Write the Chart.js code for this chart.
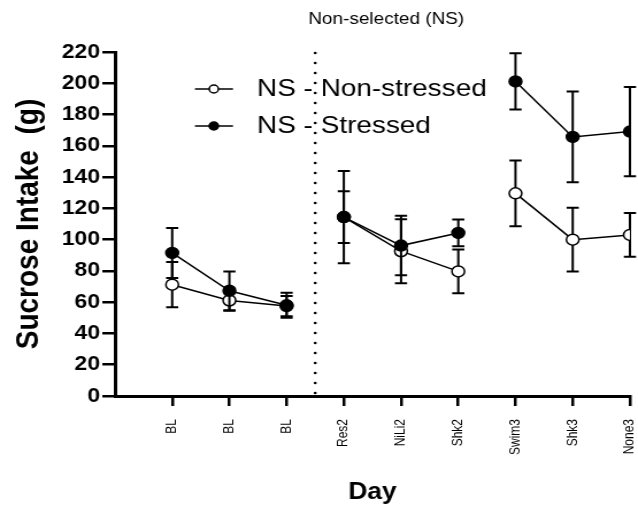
<!DOCTYPE html>
<html>
<head>
<meta charset="utf-8">
<title>Sucrose intake - Non-selected (NS)</title>
<script src="https://cdn.jsdelivr.net/npm/chart.js@4.4.1/dist/chart.umd.min.js"></script>
<style>
  html, body { margin: 0; padding: 0; background: #fff; overflow: hidden; }
  /* the reference picture is stretched sideways, so the chart is drawn narrow and widened */
  #wrap { width: 555px; height: 517px; transform: scaleX(1.1495); transform-origin: 0 0; }
</style>
</head>
<body>
<div id="wrap"><canvas id="chart" width="555" height="517" style="width:555px;height:517px"></canvas></div>
<script>
const FONT = "'Liberation Sans', Arial, sans-serif";

// Data
const dayLabels = ["BL", "BL", "BL", "Res2", "NiLi2", "Shk2", "Swim3", "Shk3", "None3"];
const dayPositions = [1, 2, 3, 4, 5, 6, 7, 8, 9];
const dayGroups = [0, 0, 0, 1, 1, 1, 2, 2, 2]; // lines only join days of the same block
const nonStressed = [71.2, 61.1, 57.5, 114.4, 92.6, 79.7, 129.6, 100, 103];
const nonStressedErr = [14.5, 6.6, 6.5, 29.5, 20.5, 14, 21, 20.4, 14];
const stressed = [91.5, 67.3, 58, 114.4, 96.2, 104.3, 201.2, 165.7, 169.1];
const stressedErr = [16, 12.4, 8, 16.5, 19, 8.6, 18, 29, 28.5];
const yTicks = [0, 20, 40, 60, 80, 100, 120, 140, 160, 180, 200, 220];
const dividerAt = 3.5;

function points(values) {
  return dayPositions.map((x, i) => ({ x: x, y: values[i] }));
}

function segColor(c) {
  return dayGroups[c.p0DataIndex] === dayGroups[c.p1DataIndex] ? "#000" : "rgba(0,0,0,0)";
}

// Error bars, drawn just before each dataset so its own markers sit on top
const errorBars = {
  id: "errorBars",
  beforeDatasetDraw(chart, args) {
    const ds = chart.data.datasets[args.index];
    if (!ds.errors) return;
    const ctx = chart.ctx;
    const xs = chart.scales.x, ys = chart.scales.y;
    ctx.save();
    ctx.strokeStyle = "#000";
    ctx.lineWidth = 2;
    ds.data.forEach((p, i) => {
      const e = ds.errors[i];
      const x = xs.getPixelForValue(p.x);
      const top = ys.getPixelForValue(p.y + e);
      const bot = ys.getPixelForValue(p.y - e);
      ctx.beginPath();
      ctx.moveTo(x, top); ctx.lineTo(x, bot);
      ctx.moveTo(x - 5.3, top); ctx.lineTo(x + 5.3, top);
      ctx.moveTo(x - 5.3, bot); ctx.lineTo(x + 5.3, bot);
      ctx.stroke();
    });
    ctx.restore();
  }
};

// Dotted divider between baseline and stress days
const divider = {
  id: "divider",
  beforeDatasetsDraw(chart) {
    const ctx = chart.ctx;
    const x = chart.scales.x.getPixelForValue(dividerAt);
    const y0 = chart.scales.y.getPixelForValue(0) - 3;
    const y1 = chart.scales.y.getPixelForValue(220);
    ctx.save();
    ctx.strokeStyle = "#000";
    ctx.lineWidth = 2.6;
    ctx.lineCap = "round";
    ctx.setLineDash([0, 10]);
    ctx.beginPath();
    ctx.moveTo(x, y0); ctx.lineTo(x, y1);
    ctx.stroke();
    ctx.restore();
  }
};

// Title and legend sit inside / above the plot, so draw them here
const overlay = {
  id: "overlay",
  afterDraw(chart) {
    const ctx = chart.ctx;
    const area = chart.chartArea;
    ctx.save();
    ctx.fillStyle = "#000";
    ctx.textBaseline = "middle";
    ctx.textAlign = "center";
    ctx.font = "16.5px " + FONT;
    ctx.fillText("Non-selected (NS)", (area.left + area.right) / 2 + 12, 19);

    const rows = [
      { text: "NS - Non-stressed", fill: "#fff", y: 89 },
      { text: "NS - Stressed", fill: "#000", y: 126 }
    ];
    ctx.textAlign = "left";
    ctx.font = "24.3px " + FONT;
    rows.forEach(r => {
      ctx.strokeStyle = "#000";
      ctx.lineWidth = 1.5;
      ctx.beginPath();
      ctx.moveTo(169.6, r.y); ctx.lineTo(202.7, r.y);
      ctx.stroke();
      ctx.beginPath();
      ctx.arc(186, r.y, 4, 0, Math.PI * 2);
      ctx.fillStyle = r.fill;
      ctx.fill();
      ctx.stroke();
      ctx.fillStyle = "#000";
      ctx.fillText(r.text, 223.6, r.y);
    });
    ctx.restore();
  }
};

const ctx = document.getElementById("chart").getContext("2d");

new Chart(ctx, {
  type: "line",
  data: {
    datasets: [
      {
        label: "NS - Non-stressed",
        data: points(nonStressed),
        errors: nonStressedErr,
        order: 1,
        borderColor: "#000",
        borderWidth: 1.5,
        segment: { borderColor: segColor },
        pointRadius: 5.5,
        pointHoverRadius: 5.5,
        pointBorderWidth: 1.5,
        pointBorderColor: "#000",
        pointBackgroundColor: "#fff",
        fill: false
      },
      {
        label: "NS - Stressed",
        data: points(stressed),
        errors: stressedErr,
        order: 0,
        borderColor: "#000",
        borderWidth: 1.5,
        segment: { borderColor: segColor },
        pointRadius: 5.5,
        pointHoverRadius: 5.5,
        pointBorderWidth: 1.5,
        pointBorderColor: "#000",
        pointBackgroundColor: "#000",
        fill: false
      }
    ]
  },
  options: {
    responsive: false,
    animation: false,
    layout: { padding: { top: 52, right: 4.3, bottom: 0, left: 0 } },
    plugins: {
      legend: { display: false },
      tooltip: { enabled: false },
      title: { display: false }
    },
    scales: {
      x: {
        type: "linear",
        min: 0,
        max: 9,
        afterBuildTicks: (s) => { s.ticks = dayPositions.map(v => ({ value: v })); },
        afterFit: (s) => { s.height = 121; s.paddingLeft = 0; s.paddingRight = 0; },
        ticks: {
          callback: (v) => dayLabels[v - 1],
          autoSkip: false,
          minRotation: 90,
          maxRotation: 90,
          padding: 13,
          color: "#000",
          font: { family: FONT, size: 12 }
        },
        grid: { drawOnChartArea: false, color: "#000", lineWidth: 2.5, tickLength: 10 },
        border: { color: "#000", width: 3 },
        title: {
          display: true,
          text: "Day",
          color: "#000",
          font: { family: FONT, size: 23, weight: "bold" },
          padding: { top: 0, bottom: 11 }
        }
      },
      y: {
        min: 0,
        max: 220,
        afterBuildTicks: (s) => { s.ticks = yTicks.map(v => ({ value: v })); },
        afterFit: (s) => { s.width = 100; },
        ticks: {
          padding: 2,
          color: "#000",
          font: { family: FONT, size: 20, weight: "bold" }
        },
        grid: { drawOnChartArea: false, color: "#000", lineWidth: 2.5, tickLength: 11 },
        border: { color: "#000", width: 3 },
        title: {
          display: true,
          text: "Sucrose Intake  (g)",
          color: "#000",
          font: { family: FONT, size: 28, weight: "bold" },
          padding: { top: 8, bottom: 0 }
        }
      }
    }
  },
  plugins: [errorBars, divider, overlay]
});
</script>
</body>
</html>
